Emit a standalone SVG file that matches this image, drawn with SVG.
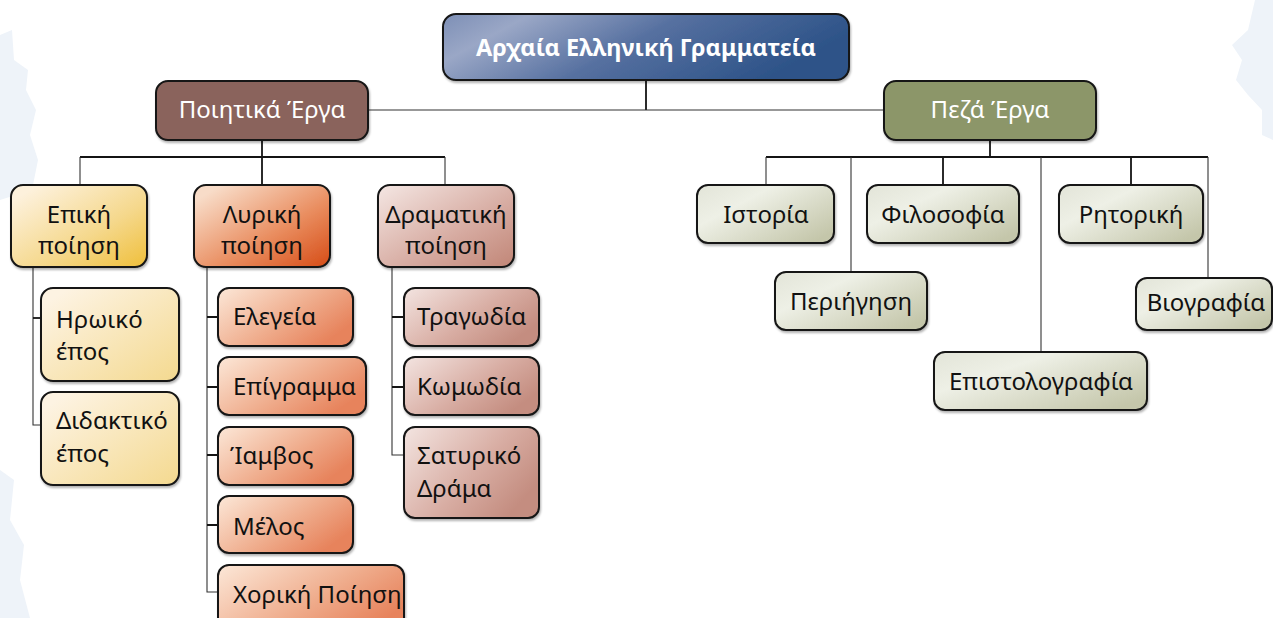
<svg xmlns="http://www.w3.org/2000/svg" width="1273" height="618" viewBox="0 0 1273 618">
<style>
.box{stroke:#141414;stroke-width:2;filter:url(#sh)}
.t{font-family:"Noto Sans","Open Sans","DejaVu Sans",sans-serif;font-size:24px;fill:#111}
.w{fill:#fff}
.c{text-anchor:middle}
.ln{stroke:#141414;stroke-width:1.8;fill:none}
.thin{stroke:#333;stroke-width:1.1;fill:none}
</style>
<defs>
<filter id="sh" x="-10%" y="-10%" width="125%" height="130%">
<feDropShadow dx="1" dy="2" stdDeviation="1.2" flood-color="#000" flood-opacity="0.3"/>
</filter>
<linearGradient id="gRoot" x1="0" y1="0" x2="1" y2="0.3">
<stop offset="0" stop-color="#7d8fb6"/>
<stop offset="0.2" stop-color="#9aa7c6"/>
<stop offset="0.55" stop-color="#5670a0"/>
<stop offset="1" stop-color="#2d5388"/>
</linearGradient>
<linearGradient id="gEpic" x1="0" y1="0" x2="1" y2="1">
<stop offset="0.1" stop-color="#fdf1dc"/>
<stop offset="0.6" stop-color="#f5d88c"/>
<stop offset="1" stop-color="#efbf3a"/>
</linearGradient>
<linearGradient id="gEpicC" x1="0" y1="0" x2="1" y2="1">
<stop offset="0.1" stop-color="#fdf3e2"/>
<stop offset="1" stop-color="#f4d98f"/>
</linearGradient>
<linearGradient id="gLyr" x1="0" y1="0" x2="1" y2="1">
<stop offset="0.1" stop-color="#f8dcc8"/>
<stop offset="0.6" stop-color="#e98c5e"/>
<stop offset="1" stop-color="#d64c16"/>
</linearGradient>
<linearGradient id="gLyrC" x1="0" y1="0" x2="1" y2="0.6">
<stop offset="0.05" stop-color="#fbe3d2"/>
<stop offset="0.6" stop-color="#efac8c"/>
<stop offset="1" stop-color="#e7835c"/>
</linearGradient>
<linearGradient id="gDra" x1="0" y1="0" x2="1" y2="1">
<stop offset="0.05" stop-color="#f2e2de"/>
<stop offset="0.6" stop-color="#d6aaa0"/>
<stop offset="1" stop-color="#c18677"/>
</linearGradient>
<linearGradient id="gDraC" x1="0" y1="0" x2="1" y2="0.6">
<stop offset="0.05" stop-color="#f1e0dc"/>
<stop offset="0.6" stop-color="#d8ada3"/>
<stop offset="1" stop-color="#c48d80"/>
</linearGradient>
<linearGradient id="gPro" x1="0" y1="0" x2="1" y2="0.8">
<stop offset="0.05" stop-color="#e4e6da"/>
<stop offset="0.35" stop-color="#eef0e6"/>
<stop offset="1" stop-color="#c4c6aa"/>
</linearGradient>
</defs>

<rect width="1273" height="618" fill="#fff"/>
<g id="bg" fill="#eef3f9">
<path d="M0,35 L12,30 L14,60 L28,70 L26,90 L36,110 L30,135 L38,160 L32,190 L0,200 Z"/>
<path d="M0,470 L14,480 L10,520 L24,545 L20,580 L30,618 L0,618 Z"/>
<path d="M1255,0 L1273,0 L1273,140 L1262,135 L1262,110 L1248,95 L1236,80 L1242,60 L1232,45 L1248,30 Z"/>
</g>

<g id="connectors">
<path class="ln" d="M646,80 V110"/>
<path class="thin" d="M368,110 H884"/>
<path class="ln" d="M262,140 V157"/>
<path class="ln" d="M80,157 H445"/>
<path class="thin" d="M80,157 V185"/>
<path class="ln" d="M262,157 V185"/>
<path class="thin" d="M445,157 V185"/>
<path class="thin" d="M33,267 V425 H41"/>
<path class="ln" d="M33,318 H41"/>
<path class="thin" d="M207,267 V592 H218"/>
<path class="ln" d="M207,317 H218 M207,387 H218 M207,455 H218 M207,525 H218"/>
<path class="thin" d="M392,267 V455 H404"/>
<path class="ln" d="M392,317 H404 M392,387 H404"/>
<path class="ln" d="M990,140 V157"/>
<path class="ln" d="M766,157 H1208"/>
<path class="thin" d="M766,157 V185"/>
<path class="thin" d="M851,157 V272"/>
<path class="ln" d="M943,157 V185"/>
<path class="thin" d="M1041,157 V352"/>
<path class="ln" d="M1131,157 V185"/>
<path class="thin" d="M1208,157 V278"/>
</g>

<g id="root">
<rect class="box" x="443" y="14" width="406" height="66" rx="13" fill="url(#gRoot)"/>
<text class="t w c" x="646" y="56" style="font-weight:bold;font-size:23.5px">Αρχαία Ελληνική Γραμματεία</text>
</g>
<g id="poetic">
<rect class="box" x="156" y="81" width="212" height="59" rx="12" fill="#8a645c"/>
<text class="t w c" x="262" y="118">Ποιητικά Έργα</text>
</g>
<g id="prose">
<rect class="box" x="884" y="81" width="212" height="59" rx="12" fill="#8c9669"/>
<text class="t w c" x="990" y="118">Πεζά Έργα</text>
</g>

<g id="epic">
<rect class="box" x="11" y="185" width="136" height="82" rx="12" fill="url(#gEpic)"/>
<text class="t c" x="79" y="223">Επική</text>
<text class="t c" x="79" y="254">ποίηση</text>
</g>
<g id="lyric">
<rect class="box" x="194" y="185" width="136" height="82" rx="12" fill="url(#gLyr)"/>
<text class="t c" x="262" y="223">Λυρική</text>
<text class="t c" x="262" y="254">ποίηση</text>
</g>
<g id="dramatic">
<rect class="box" x="378" y="185" width="136" height="82" rx="12" fill="url(#gDra)"/>
<text class="t c" x="446" y="223">Δραματική</text>
<text class="t c" x="446" y="254">ποίηση</text>
</g>

<g id="heroic">
<rect class="box" x="41" y="288" width="138" height="93" rx="12" fill="url(#gEpicC)"/>
<text class="t" x="56" y="328">Ηρωικό</text>
<text class="t" x="56" y="360">έπος</text>
</g>
<g id="didactic">
<rect class="box" x="41" y="392" width="138" height="93" rx="12" fill="url(#gEpicC)"/>
<text class="t" x="56" y="429">Διδακτικό</text>
<text class="t" x="56" y="462">έπος</text>
</g>

<g id="elegy">
<rect class="box" x="218" y="288" width="135" height="58" rx="11" fill="url(#gLyrC)"/>
<text class="t" x="233" y="325">Ελεγεία</text>
</g>
<g id="epigram">
<rect class="box" x="218" y="357" width="148" height="58" rx="11" fill="url(#gLyrC)"/>
<text class="t" x="233" y="395">Επίγραμμα</text>
</g>
<g id="iambos">
<rect class="box" x="218" y="427" width="135" height="58" rx="11" fill="url(#gLyrC)"/>
<text class="t" x="230" y="464">Ίαμβος</text>
</g>
<g id="melos">
<rect class="box" x="218" y="496" width="135" height="57" rx="11" fill="url(#gLyrC)"/>
<text class="t" x="233" y="535">Μέλος</text>
</g>
<g id="choral">
<rect class="box" x="218" y="565" width="186" height="70" rx="11" fill="url(#gLyrC)"/>
<text class="t" x="233" y="603">Χορική Ποίηση</text>
</g>

<g id="tragedy">
<rect class="box" x="404" y="288" width="135" height="58" rx="11" fill="url(#gDraC)"/>
<text class="t" x="417" y="325">Τραγωδία</text>
</g>
<g id="comedy">
<rect class="box" x="404" y="357" width="135" height="58" rx="11" fill="url(#gDraC)"/>
<text class="t" x="417" y="395">Κωμωδία</text>
</g>
<g id="satyr">
<rect class="box" x="404" y="427" width="135" height="91" rx="11" fill="url(#gDraC)"/>
<text class="t" x="417" y="464">Σατυρικό</text>
<text class="t" x="417" y="497">Δράμα</text>
</g>

<g id="history">
<rect class="box" x="697" y="185" width="137" height="58" rx="11" fill="url(#gPro)"/>
<text class="t c" x="766" y="223">Ιστορία</text>
</g>
<g id="philosophy">
<rect class="box" x="867" y="185" width="152" height="58" rx="11" fill="url(#gPro)"/>
<text class="t c" x="943" y="223">Φιλοσοφία</text>
</g>
<g id="rhetoric">
<rect class="box" x="1059" y="185" width="144" height="58" rx="11" fill="url(#gPro)"/>
<text class="t c" x="1131" y="223">Ρητορική</text>
</g>
<g id="periegesis">
<rect class="box" x="775" y="272" width="152" height="58" rx="11" fill="url(#gPro)"/>
<text class="t c" x="851" y="310">Περιήγηση</text>
</g>
<g id="biography">
<rect class="box" x="1136" y="278" width="136" height="52" rx="11" fill="url(#gPro)"/>
<text class="t c" x="1206" y="311">Βιογραφία</text>
</g>
<g id="epistolography">
<rect class="box" x="934" y="352" width="213" height="58" rx="11" fill="url(#gPro)"/>
<text class="t c" x="1041" y="390">Επιστολογραφία</text>
</g>
</svg>
